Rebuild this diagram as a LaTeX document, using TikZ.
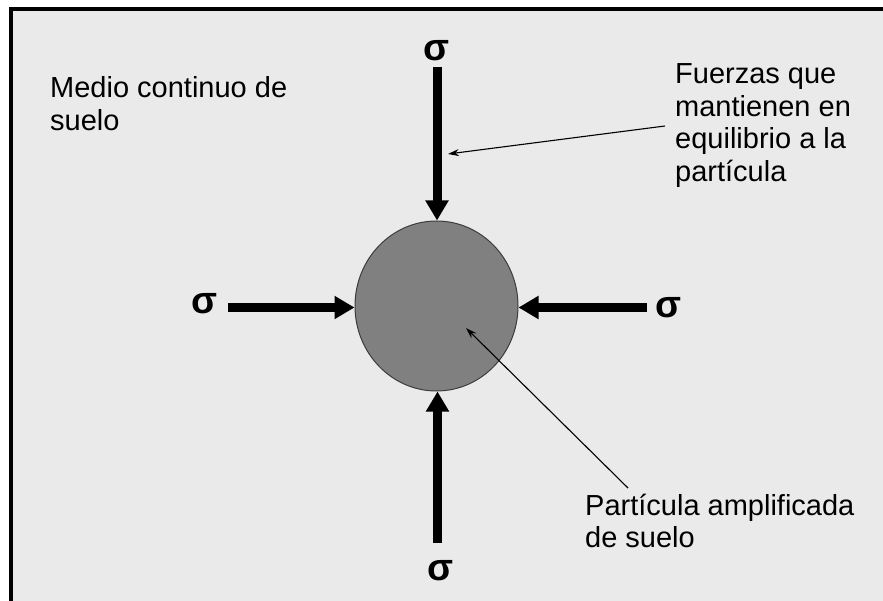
\documentclass[tikz,border=0pt]{standalone}
\usepackage{fontspec}
\setmainfont{Liberation Sans}
\usetikzlibrary{arrows.meta,shapes.geometric}
\definecolor{bg}{RGB}{234,234,234}
\definecolor{part}{RGB}{128,128,128}
\definecolor{partedge}{RGB}{60,60,60}
\begin{document}
\begin{tikzpicture}[x=1pt,y=-1pt,
  force/.style={line width=9pt,-{Triangle[width=22pt,length=20pt]}},
  leader/.style={line width=1.1pt,-{Stealth[length=11pt,width=7pt]}},
  sig/.style={font=\fontsize{38}{38}\selectfont\bfseries,inner sep=0pt,anchor=base},
  lbl/.style={font=\fontsize{29}{32.5}\selectfont,inner sep=0pt,anchor=base west}]
\useasboundingbox (0,0) rectangle (883,601);
\fill[white] (0,0) rectangle (883,601);
\fill[bg] (9,7) rectangle (883,601);
\draw[line width=4pt] (10.5,601) -- (10.5,9) -- (883,9);

\node[ellipse, draw=partedge, line width=1pt, fill=part, minimum width=163pt, minimum height=170pt, inner sep=0pt] (P) at (436.5,306) {};

\node[sig] (sT) at (436.5,61) {σ};
\node[sig] (sL) at (204.5,314) {σ};
\node[sig] (sR) at (668.5,318) {σ};
\node[sig] (sB) at (440,580) {σ};

\coordinate (aT) at (437,67);
\coordinate (aB) at (437.5,543);
\coordinate (aL) at (228,307.5);
\coordinate (aR) at (647,307.5);
\draw[force] (aT) -- (aT |- P.north);
\draw[force] (aB) -- (aB |- P.south);
\draw[force] (aL) -- (P.west |- aL);
\draw[force] (aR) -- (P.east |- aR);

\node[lbl] (medio) at (50,98) {\begin{tabular}[t]{@{}l@{}}Medio continuo de\\suelo\end{tabular}};
\node[lbl] (fuerzas) at (675,84) {\begin{tabular}[t]{@{}l@{}}Fuerzas que\\mantienen en\\equilibrio a la\\partícula\end{tabular}};
\node[lbl] (particula) at (585,515) {\begin{tabular}[t]{@{}l@{}}Partícula amplificada\\de suelo\end{tabular}};

\coordinate (fS) at (665,126);
\coordinate (fE) at (448,154);
\draw[leader] (fS) -- (fE);
\coordinate (pS) at (628,488);
\coordinate (pE) at (466,328);
\draw[leader] (pS) -- (pE);
\end{tikzpicture}
\end{document}
